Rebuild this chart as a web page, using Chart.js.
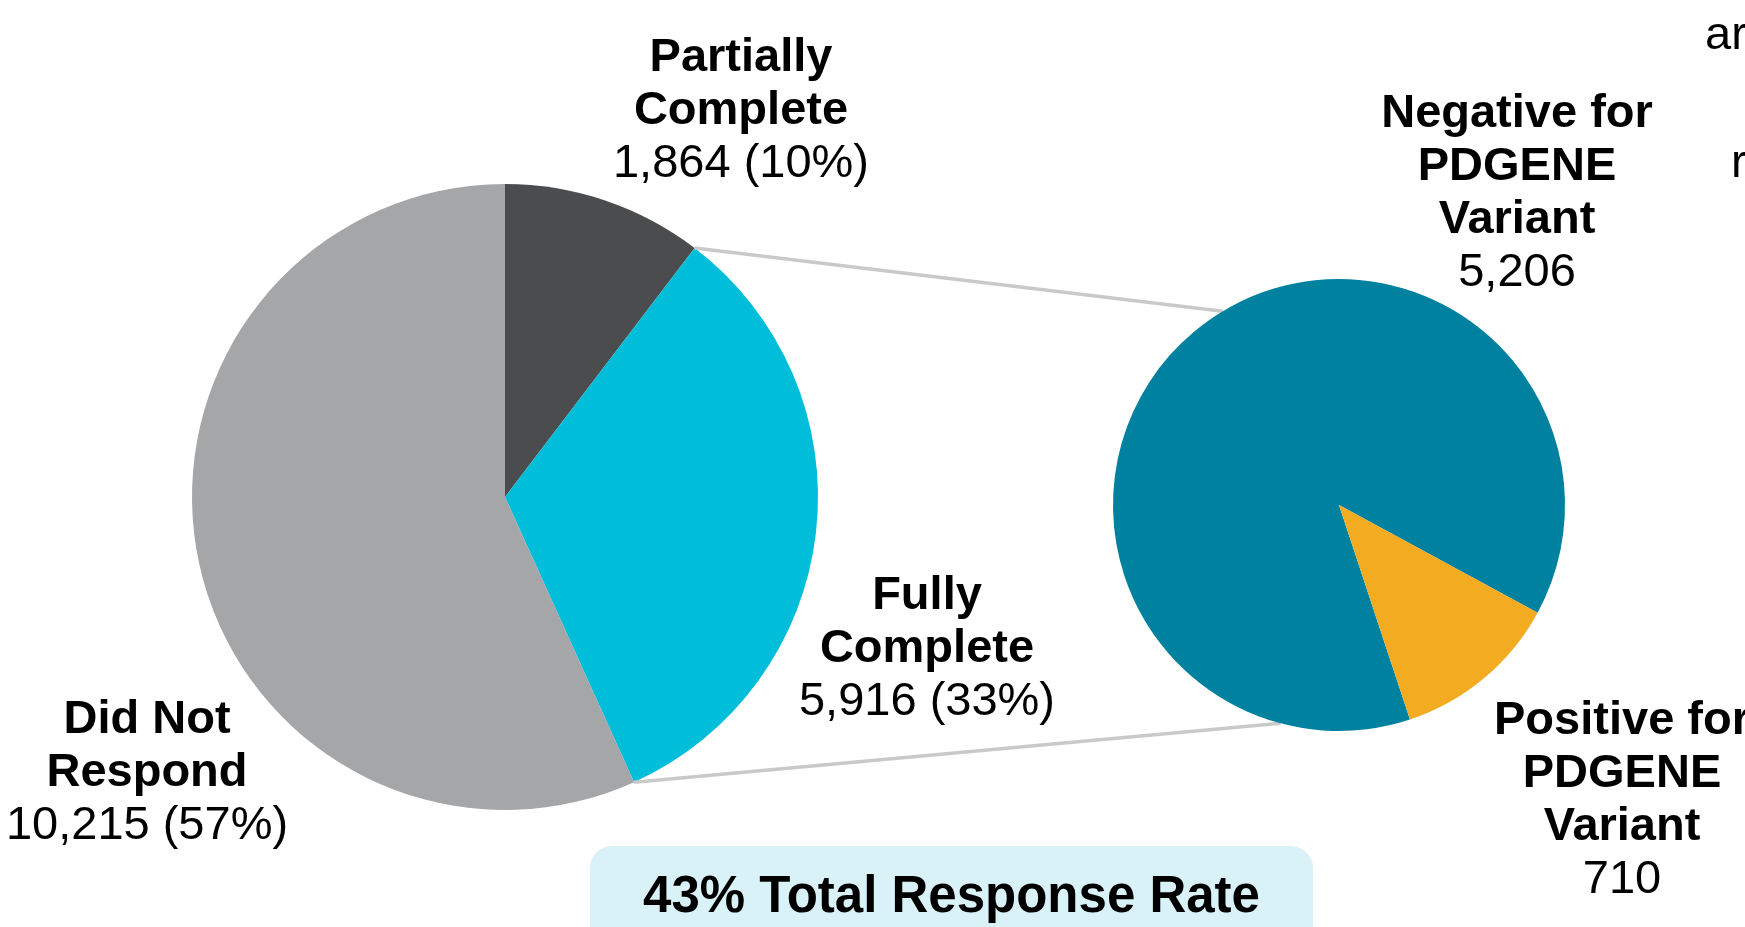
<!DOCTYPE html>
<html>
<head>
<meta charset="utf-8">
<title>Survey response</title>
<script src="https://cdn.jsdelivr.net/npm/chart.js@4.4.1/dist/chart.umd.min.js"></script>
<style>
  html, body { margin: 0; padding: 0; background: #fff; overflow: hidden; }
  #wrap { position: relative; width: 1745px; height: 927px; }
  #wrap canvas { position: absolute; left: 0; top: 0; }
  .rate-box {
    position: absolute; left: 590px; top: 846px; width: 723px; height: 120px;
    background: #d9f2f8; border-radius: 22px;
    font: bold 51px "Liberation Sans", Arial, sans-serif; color: #000;
    text-align: center; line-height: 51px; padding-top: 23px; box-sizing: border-box;
  }
</style>
</head>
<body>
<div id="wrap">
  <canvas id="respostas" width="1745" height="927"></canvas>
  <canvas id="variantes" width="1745" height="927"></canvas>
  <div class="rate-box" id="taxa"></div>
</div>
<script>
// survey responses (left pie)
const respostaNomes = [['Partially', 'Complete'], ['Fully', 'Complete'], ['Did Not', 'Respond']]
const respostaValores = [1864, 5916, 10215]
const respostaCores = ['#4b4c4e', '#00bed9', '#a5a6a8']

// breakdown of the fully complete ones (right pie)
const varianteNomes = [['Negative for', 'PDGENE', 'Variant'], ['Positive for', 'PDGENE', 'Variant']]
const varianteValores = [5206, 710]
const varianteCores = ['#0081a0', '#f3ab21']

// where each label block sits: centre x, first baseline
const posRespostas = [[741, 71], [927, 609], [147, 733]]
const posVariantes = [[1517, 127], [1622, 734]]
const ALTURA_LINHA = 53

const fmt = n => n.toLocaleString('en-US')
const totalRespostas = respostaValores.reduce((a, b) => a + b, 0)
const pct = v => Math.round(v / totalRespostas * 100) + '%'

document.getElementById('taxa').textContent =
  Math.round((respostaValores[0] + respostaValores[1]) / totalRespostas * 100) + '% Total Response Rate'

const opcoesBase = {
  responsive: false,
  animation: false,
  plugins: { legend: { display: false }, tooltip: { enabled: false } }
}

const graficoRespostas = new Chart(document.getElementById('respostas'), {
  type: 'pie',
  data: {
    labels: respostaNomes.map(l => l.join(' ')),
    datasets: [{ data: respostaValores, backgroundColor: respostaCores, borderWidth: 0 }]
  },
  options: {
    ...opcoesBase,
    layout: { padding: { left: 192, top: 184, right: 927, bottom: 117 } }
  }
})

function escreveBloco(ctx, linhas, x, y) {
  linhas.forEach((txt, i) => {
    const ultima = i === linhas.length - 1
    ctx.font = (ultima ? '' : 'bold ') + '47px "Liberation Sans", Arial, sans-serif'
    ctx.fillText(txt, x, y + i * ALTURA_LINHA)
  })
}

// connector lines from the fully complete slice to the second pie, plus all labels
const ligacoes = {
  id: 'ligacoes',
  beforeDatasetsDraw(chart) {
    const fatia = graficoRespostas.getDatasetMeta(0).data[1]
    const alvo = chart.getDatasetMeta(0).data[0]
    const ctx = chart.ctx
    const pontoEm = (arc, ang) => [arc.x + arc.outerRadius * Math.cos(ang), arc.y + arc.outerRadius * Math.sin(ang)]
    const grau = Math.PI / 180
    const pares = [
      [pontoEm(fatia, fatia.startAngle), pontoEm(alvo, -121 * grau)],
      [pontoEm(fatia, fatia.endAngle), pontoEm(alvo, 105 * grau)]
    ]
    ctx.save()
    ctx.strokeStyle = '#c9c9c9'
    ctx.lineWidth = 3.5
    pares.forEach(([a, b]) => {
      ctx.beginPath()
      ctx.moveTo(a[0], a[1])
      ctx.lineTo(b[0], b[1])
      ctx.stroke()
    })
    ctx.restore()
  },
  afterDraw(chart) {
    const ctx = chart.ctx
    ctx.save()
    ctx.fillStyle = '#000'
    ctx.textAlign = 'center'
    ctx.textBaseline = 'alphabetic'
    respostaNomes.forEach((nome, i) => {
      const [x, y] = posRespostas[i]
      escreveBloco(ctx, [...nome, fmt(respostaValores[i]) + ' (' + pct(respostaValores[i]) + ')'], x, y)
    })
    varianteNomes.forEach((nome, i) => {
      const [x, y] = posVariantes[i]
      escreveBloco(ctx, [...nome, fmt(varianteValores[i])], x, y)
    })
    // text running in from the next panel
    ctx.textAlign = 'left'
    ctx.font = '47px "Liberation Sans", Arial, sans-serif'
    ctx.fillText('ar', 1705, 49)
    ctx.fillText('r', 1731, 177)
    ctx.restore()
  }
}

new Chart(document.getElementById('variantes'), {
  type: 'pie',
  data: {
    labels: varianteNomes.map(l => l.join(' ')),
    datasets: [{ data: varianteValores, backgroundColor: varianteCores, borderWidth: 0 }]
  },
  options: {
    ...opcoesBase,
    rotation: 161.7,
    layout: { padding: { left: 1113, top: 279, right: 180, bottom: 196 } }
  },
  plugins: [ligacoes]
})
</script>
</body>
</html>
